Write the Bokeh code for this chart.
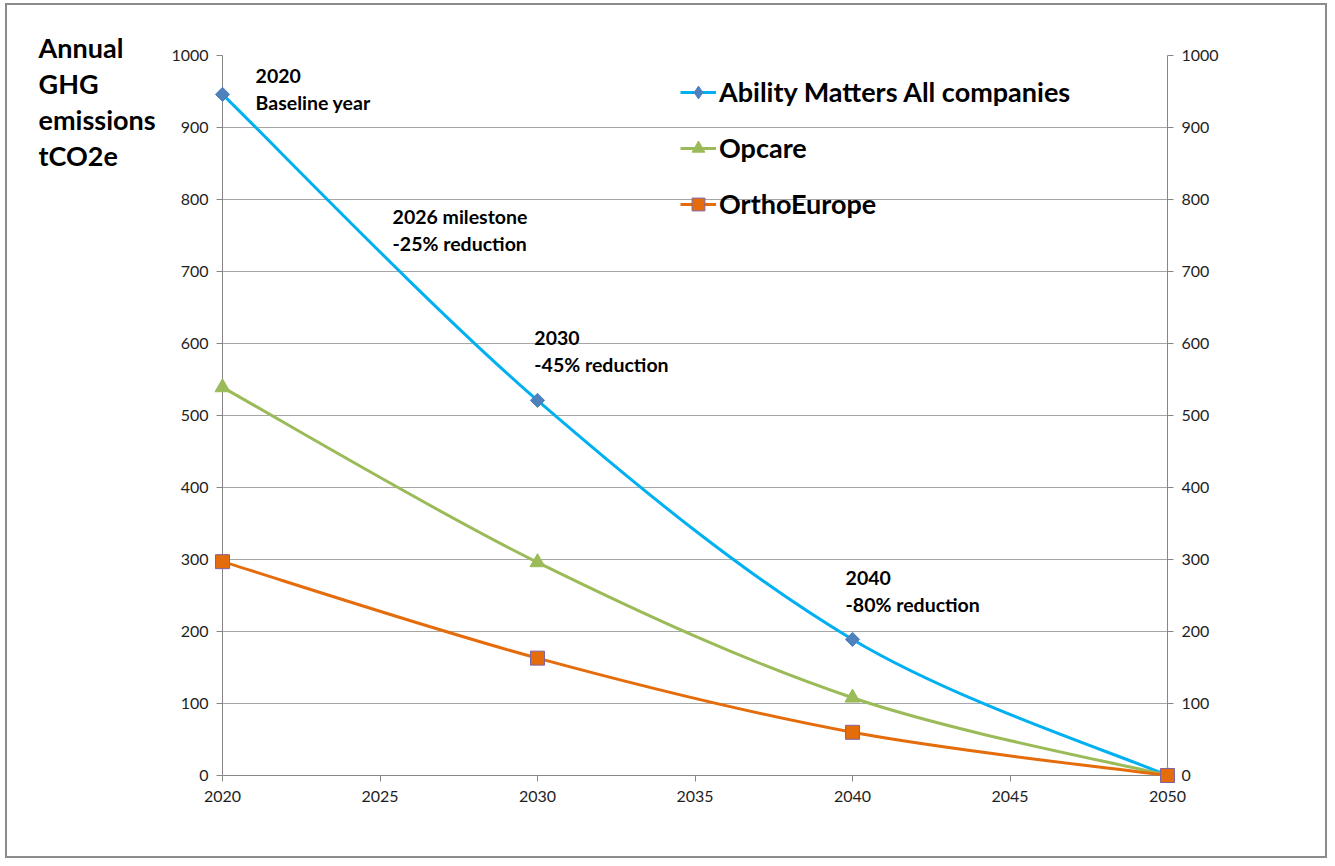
import math
from bokeh.plotting import figure
from bokeh.models import (Range1d, LinearAxis, FixedTicker, Legend, LegendItem, Label)
from bokeh.core.properties import value
from bokeh.embed import file_html
from bokeh.resources import INLINE

# ---- data ----
years = [2020, 2030, 2040, 2050]
ability = [946, 521, 189, 0]
opcare = [539, 296, 108, 0]
ortho = [297, 163, 60, 0]
series_names = ["Ability Matters All companies", "Opcare", "OrthoEurope"]
x_ticks = [2020, 2025, 2030, 2035, 2040, 2045, 2050]
y_ticks = [0, 100, 200, 300, 400, 500, 600, 700, 800, 900, 1000]
title_lines = ["Annual", "GHG", "emissions", "tCO2e"]
notes = [("2020", "Baseline year"), ("2026 milestone", "-25% reduction"),
         ("2030", "-45% reduction"), ("2040", "-80% reduction")]

FONT = "Lato"
AXIS_GREY = "#868686"

p = figure(width=1322, height=855, output_backend="svg", toolbar_location=None,
           x_range=Range1d(2020, 2050), y_range=Range1d(0, 1000),
           min_border_left=215, min_border_right=162, min_border_top=50, min_border_bottom=85,
           x_axis_location=None, y_axis_location=None)
p.outline_line_color = None
p.xgrid.visible = False
p.ygrid.grid_line_color = "#a6a6a6"
p.ygrid.ticker = FixedTicker(ticks=y_ticks)
p.styles = {"border": "2px solid #8c8c8c", "margin-left": "5px", "margin-top": "3px"}


def style_axis(ax, standoff):
    ax.axis_line_color = AXIS_GREY
    ax.major_tick_line_color = AXIS_GREY
    ax.major_tick_in = 0
    ax.major_tick_out = 6
    ax.minor_tick_line_color = None
    ax.major_label_text_font = FONT
    ax.major_label_text_font_size = "16px"
    ax.major_label_text_color = "#1e1e1e"
    ax.major_label_standoff = standoff


xaxis = LinearAxis(ticker=FixedTicker(ticks=x_ticks))
style_axis(xaxis, 9)
p.add_layout(xaxis, "below")
for side in ("left", "right"):
    ax = LinearAxis(ticker=FixedTicker(ticks=y_ticks))
    style_axis(ax, 8)
    p.add_layout(ax, side)


def bezier_parts(xs, ys):
    n = len(xs)
    out = {k: [] for k in ("x0", "y0", "x1", "y1", "cx0", "cy0", "cx1", "cy1")}
    for i in range(n - 1):
        pm = max(i - 1, 0)
        pp = min(i + 2, n - 1)
        out["x0"].append(xs[i]); out["y0"].append(ys[i])
        out["x1"].append(xs[i + 1]); out["y1"].append(ys[i + 1])
        out["cx0"].append(xs[i] + (xs[i + 1] - xs[pm]) / 6)
        out["cy0"].append(ys[i] + (ys[i + 1] - ys[pm]) / 6)
        out["cx1"].append(xs[i + 1] - (xs[pp] - xs[i]) / 6)
        out["cy1"].append(ys[i + 1] - (ys[pp] - ys[i]) / 6)
    return out


styles = [
    dict(line="#00b0f0", marker="square", angle=math.pi / 4, fill="#4f81bd", outline="#4f81bd",
         size=10, lg_marker="diamond", lg_size=15),
    dict(line="#9bbb59", marker="triangle", angle=0, fill="#9bbb59", outline="#9bbb59",
         size=15, lg_marker="triangle", lg_size=14),
    dict(line="#e46c0a", marker="square", angle=0, fill="#e46c0a", outline="#8064a2",
         size=14, lg_marker="square", lg_size=14),
]
nan = float("nan")
items = []
for name, vals, st in zip(series_names, [ability, opcare, ortho], styles):
    bp = bezier_parts(years, vals)
    p.bezier(line_color=st["line"], line_width=3, level="overlay", **bp)
    p.scatter(years, vals, marker=st["marker"], size=st["size"], angle=st["angle"],
              fill_color=st["fill"], line_color=st["outline"], line_width=1,
              level="overlay")
    proxy_line = p.line(x=[nan], y=[nan], line_color=st["line"], line_width=3)
    proxy_mark = p.scatter(x=[nan], y=[nan], marker=st["lg_marker"], size=st["lg_size"],
                           fill_color=st["fill"], line_color=st["outline"], line_width=1)
    items.append(LegendItem(label=name, renderers=[proxy_line, proxy_mark]))

legend = Legend(items=items, location=(458, 555), orientation="vertical",
                label_text_font=FONT, label_text_font_style="bold",
                label_text_font_size="27px", label_text_color="#000000",
                glyph_width=36, glyph_height=32, label_height=32, label_standoff=3,
                spacing=23, padding=0, margin=0,
                border_line_color=None, background_fill_alpha=0)
p.add_layout(legend, "center")

# y-axis title (horizontal, stacked) to the left of the axis
title_x = [2014.16] * len(title_lines)
title_y = [1011, 961, 911, 861]
p.text(x=title_x, y=title_y, text=title_lines, text_font=value(FONT),
       text_font_style="bold", text_font_size="27px", text_color="#000000",
       text_baseline="middle", level="overlay")

note_pos = [(2021.05, 971), (2025.4, 776), (2029.9, 608), (2039.78, 274)]
for (l1, l2), (nx, ny) in zip(notes, note_pos):
    p.add_layout(Label(x=nx, y=ny, text=l1, text_font=FONT, text_font_style="bold",
                       text_font_size="19.5px", text_color="#000000", text_baseline="middle",
                       level="overlay"))
    p.add_layout(Label(x=nx, y=ny - 36.5, text=l2, text_font=FONT, text_font_style="bold",
                       text_font_size="19.5px", text_color="#000000", text_baseline="middle",
                       level="overlay"))

open("out.html", "w").write(file_html(p, INLINE))
